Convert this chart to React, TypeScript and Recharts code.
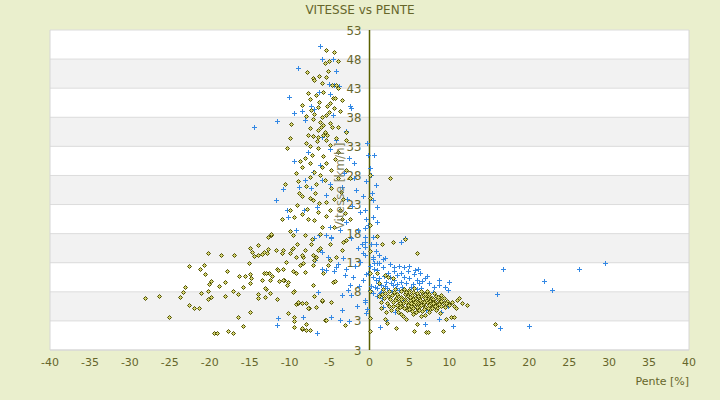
import React from "react";
import {
	ScatterChart,
	Scatter,
	XAxis,
	YAxis,
	CartesianGrid,
	ReferenceLine,
} from "recharts";

// pente [%], vitesse [km/h]
const olivePoints: [number, number][] = [
	// montée / descente raide (panache)
	[-5.5, 49.6], [-4.4, 49.3], [-5.1, 47.7], [-5.6, 47.3], [-4, 47.7], [-7.8, 45.8], [-7.1, 44.7], [-7.0, 44.4],
	[-6.3, 45.1], [-5.2, 46.0], [-5.4, 45.0], [-4.2, 43.5], [-4, 43.0], [-4.7, 43.6], [-7.7, 42.1], [-5.8, 42.4],
	[-7.5, 41.1], [-6.7, 41.8], [-4.9, 40.4], [-4.6, 41.3], [-4.3, 41.3], [-3.5, 41.0], [-8.5, 40.1], [-6.3, 40.7],
	[-7.3, 39.3], [-6.5, 39.8], [-5.4, 38.4], [-5.1, 38.9], [-3.75, 39.1], [-9.8, 36.8], [-7.1, 37.7], [-6.25, 37.2],
	[-5.8, 36.7], [-5, 37.0], [-4.7, 36.4], [-7.5, 36.1], [-6.5, 35.8], [-5.6, 35.5], [-4, 36.3], [-9.9, 34.4],
	[-7.1, 34.7], [-4.25, 34.4], [-2.9, 35.5], [-6.0, 43.9], [-5.9, 38.0], [-6.9, 38.5], [-4.4, 39.6], [-5.3, 40.0],
	[-6.1, 36.3], [-8.0, 38.2], [-7.7, 35.0], [-6.6, 33.9], [-5.3, 34.9],
	[-10.3, 32.8], [-7.9, 33.5], [-7.5, 33.1], [-7.1, 34.8], [-6.5, 34.6], [-5.8, 35.0], [-5.4, 34.1], [-5, 33.2],
	[-6.5, 32.7], [-8.75, 30.4], [-8.5, 29.5], [-9.2, 28.4], [-8.1, 31.0], [-7.5, 30.1], [-7.2, 31.5], [-6.9, 28.6],
	[-6.25, 28.0], [-6.7, 26.6], [-5.4, 30.1], [-4.8, 28.9], [-5.6, 27.2], [-4.8, 25.8], [-8.8, 24.9], [-8.5, 24.4],
	[-7.5, 24.1], [-7.1, 23.8], [-6.3, 23.2], [-5.4, 23.5], [-5, 22.1], [-3.75, 22.1], [-3.1, 21.5], [-2.5, 20.6],
	[-10, 22.1], [-9.4, 20.9], [-7.7, 20.6], [-7.0, 20.4], [-6.0, 19.2], [-4.4, 19.2], [-3.5, 20.6], [-10, 18.5],
	[-9.6, 17.8], [-12.3, 17.8], [-8.1, 17.8], [-6.25, 18.0], [-2.9, 34.1],
	[-9.0, 27.0], [-8.0, 26.2], [-7.4, 27.8], [-6.0, 29.5], [-5.8, 31.3], [-4.3, 30.8], [-4.0, 27.5], [-3.6, 25.2],
	[-3.3, 23.9], [-4.5, 24.0], [-6.8, 25.0], [-7.8, 22.3], [-9.1, 23.0], [-10.6, 26.5], [-8.4, 21.3], [-5.5, 21.0],
	[-6.5, 21.8], [-11.0, 20.5], [-4.0, 32.0], [-3.0, 29.0], [-2.4, 27.5], [2.6, 27.6],
	// pentes négatives, faible vitesse
	[-28.1, 6.9], [-26.3, 7.2], [-25.1, 3.6], [-23.75, 7.1], [-23.3, 7.9], [-23.1, 8.8], [-22.6, 5.7], [-22, 5.3],
	[-21.3, 5.2], [-22.6, 12.4], [-21.25, 11.9], [-20.7, 12.6], [-20.2, 14.6], [-20.6, 11.0], [-21.1, 7.8], [-20.2, 8.1],
	[-20.2, 6.8], [-19.8, 7.1], [-20.1, 9.3], [-19.8, 9.9], [-19.5, 1.0], [-19.1, 0.9], [-18.6, 14.4], [-18.8, 9.0],
	[-18.1, 9.7], [-17.9, 11.5], [-17.7, 1.3], [-17.1, 0.9], [-17.0, 14.4], [-18.1, 7.3], [-17.1, 8.2], [-16.5, 7.7],
	[-16.5, 3.7], [-15.8, 2.2], [-16.4, 10.8], [-15.8, 8.8], [-15.6, 10.7], [-15.1, 12.9], [-14.9, 15.6], [-14.8, 10.3],
	[-15.0, 4.6], [-14.9, 9.5], [-14.7, 14.8], [-14.4, 14.2], [-14, 16.0], [-14.0, 14.4], [-14.0, 7.6], [-13.9, 6.9],
	[-13.5, 14.5], [-13.5, 10.1], [-13.1, 7.1], [-13.0, 8.4], [-13.2, 11.2], [-12.8, 14.6], [-12.75, 15.3], [-12.6, 11.3],
	[-12.5, 10.0], [-12.5, 7.8], [-12.3, 17.9], [-12.7, 17.5], [-12.2, 10.7], [-11.7, 15.2], [-11.6, 11.9], [-11.6, 6.7],
	[-11.3, 9.9], [-11.0, 14.7], [-10.75, 10.0], [-10.4, 13.1], [-10.3, 9.2], [-10.2, 4.3], [-10, 14.6], [-9.7, 15.3],
	[-9.4, 8.2], [-9.25, 5.9], [-9.1, 16.3], [-9.2, 11.3], [-8.9, 6.1], [-9.4, 3.6], [-9.4, 2.0], [-8.5, 1.6],
	[-8.1, 11.4], [-8.3, 14.0], [-7.9, 6.0], [-7.6, 5.2], [-8.0, 2.5], [-7.3, 16.3], [-7, 13.5], [-7.1, 9.2],
	[-7.0, 7.3], [-7.2, 17.0], [-6.7, 5.4], [-7.5, 1.4], [-6.0, 6.4], [-5.6, 3.2],
	[-15, 11.0], [-13.25, 14.8], [-11.0, 14.6], [-10.8, 15.2], [-9.6, 15.5], [-9.2, 14.0], [-8.5, 14.3], [-8.1, 15.2],
	[-7.1, 14.3], [-6.5, 15.2], [-6.2, 15.6], [-5, 16.3], [-12.9, 11.2], [-11.5, 11.75], [-10.8, 12.0], [-9.6, 11.5],
	[-8.75, 12.6], [-8.3, 12.9], [-7.1, 12.6], [-5.8, 11.2], [-5.2, 12.6], [-5, 13.5], [-4.2, 14.0], [-3.5, 15.2],
	[-3.3, 16.6], [-2.9, 16.9], [-10.8, 10.0], [-10.2, 9.7], [-13.1, 8.6], [-9.6, 8.0], [-9, 6.3], [-8.5, 6.0],
	[-7.7, 5.2], [-6.0, 6.6], [-4.8, 6.3], [-9.4, 2.9], [-8.5, 1.7], [-7.9, 1.4], [-5.4, 3.2], [-3.1, 2.3],
	[-4.6, 9.7], [-4.3, 9.9], [-6.7, 14.0],
	// à plat
	[0, 1.2], [0, 3.5], [0, 8.2], [0, 11.3], [0, 15.0], [0, 19.5], [0, 24.2], [0, 28.0],
	// pentes positives
	[0.9, 17.6], [4.4, 17.0], [3.0, 16.6], [1.6, 16.2], [6.0, 14.7], [1.9, 10.9], [2.3, 10.6], [1.0, 11.2],
	[2.9, 10.3], [1.25, 9.5], [11.25, 6.9], [12.2, 5.7], [10.8, 5.2], [10, 5.9], [10.2, 3.6], [4.6, 3.3],
	[3.3, 1.7], [5.6, 1.3], [7.1, 1.1], [7.3, 1.1], [9.2, 1.3], [6.0, 2.4], [2.0, 3.4], [2.2, 2.6],
	[1.5, 5.3], [15.7, 2.4], [10.6, 3.6], [9.6, 3.3],
	[2.0, 7.8], [2.3, 7.2], [2.6, 6.8], [2.8, 7.5], [3.0, 6.2], [3.1, 7.9], [3.3, 6.9], [3.4, 5.8],
	[3.6, 7.3], [3.7, 6.5], [3.9, 8.1], [4.0, 5.5], [4.1, 7.0], [4.2, 6.1], [4.4, 7.6], [4.5, 6.7],
	[4.6, 5.2], [4.8, 7.2], [4.9, 6.0], [5.0, 8.3], [5.1, 6.6], [5.2, 5.6], [5.3, 7.4], [5.4, 6.3],
	[5.5, 7.9], [5.6, 5.9], [5.7, 7.0], [5.8, 6.5], [5.9, 5.3], [6.0, 7.6], [6.1, 6.1], [6.2, 6.9],
	[6.3, 5.6], [6.4, 7.3], [6.5, 6.4], [6.6, 8.0], [6.7, 5.9], [6.8, 7.1], [6.9, 6.6], [7.0, 5.4],
	[7.1, 7.5], [7.2, 6.2], [7.3, 6.9], [7.4, 5.7], [7.5, 7.2], [7.6, 6.5], [7.7, 6.0], [7.8, 7.0],
	[7.9, 5.5], [8.0, 6.7], [8.2, 6.2], [8.3, 7.3], [8.5, 5.8], [8.6, 6.8], [8.8, 6.3], [9.0, 5.6],
	[9.1, 6.9], [9.3, 6.1], [9.5, 5.4], [9.7, 6.5], [9.9, 5.8], [2.5, 8.2], [2.9, 5.5], [3.2, 8.4],
	[3.5, 5.0], [3.8, 6.0], [4.3, 8.5], [4.7, 4.8], [4.9, 7.9], [5.3, 4.7], [5.6, 8.6], [5.9, 7.8],
	[6.2, 4.9], [6.5, 8.2], [6.8, 5.1], [7.2, 8.1], [7.6, 5.0], [8.1, 7.8], [8.4, 5.2], [8.9, 7.4],
	[3.4, 7.6], [3.9, 7.1], [4.4, 6.4], [4.8, 5.7], [5.1, 7.1], [5.5, 6.7], [5.8, 6.0], [6.1, 7.3],
	[6.4, 5.8], [6.8, 6.2], [7.1, 6.6], [7.4, 7.7], [7.9, 6.3], [8.2, 5.5], [8.7, 5.9], [9.3, 7.0],
	[10.3, 6.2], [10.6, 5.6], [2.2, 6.0], [1.8, 6.9], [1.6, 7.6], [2.7, 4.9], [3.6, 4.6], [4.3, 5.2],
	[5.0, 5.0], [5.8, 4.6], [6.6, 4.7], [7.5, 4.6], [8.3, 4.8], [3.2, 6.6], [4.6, 7.9], [5.7, 6.3],
	[6.9, 7.6], [7.8, 5.3], [8.6, 7.1], [9.6, 6.0], [4.0, 6.8], [5.2, 6.0], [6.3, 6.6], [7.0, 7.0],
	[6.0, 5.4], [5.4, 5.2], [4.6, 6.2], [3.8, 5.4], [7.3, 5.2], [8.0, 6.0], [9.0, 6.4], [2.4, 5.6],
	[1.4, 6.2], [1.2, 7.2], [1.7, 8.4], [2.1, 4.6], [10.9, 6.6], [11.6, 6.0], [3.9, 4.2], [5.5, 4.2],
	[7.0, 4.1], [8.8, 4.3], [4.2, 3.9], [6.4, 3.8],
];

const bluePoints: [number, number][] = [
	[-6.25, 50.2], [-6.0, 48.0], [-4.6, 48.1], [-9, 46.4], [-4.25, 46.0], [-5.1, 43.7], [-4.4, 43.5], [-3.8, 43.3],
	[-6.3, 42.3], [-5, 42.0], [-10.1, 41.4], [-7.3, 39.9], [-7, 39.4], [-9.5, 38.7], [-8.5, 39.0], [-2.5, 39.9],
	[-2.3, 39.6], [-11.6, 37.4], [-8.1, 37.5], [-4.6, 38.4], [-3, 35.7], [-5.9, 34.6], [-14.4, 36.3], [-11.75, 23.8],
	[-9.5, 30.4], [-10.8, 25.6], [-10.3, 22.1], [-10.2, 20.9], [-8.2, 22.1], [-7.7, 32.1], [-8.1, 27.2], [-7.1, 28.6],
	[-6.0, 27.2], [-4.9, 26.6], [-4.2, 34.1], [-5, 32.5], [-1.9, 30.2], [-1.7, 25.5], [-1.25, 21.8], [-1.5, 18.6],
	[0, 29.2], [0.6, 31.5], [-0.2, 31.5], [0.8, 26.4], [0.5, 23.8], [0.4, 20.9], [-0.6, 22.1], [-0.4, 20.6],
	[-0.6, 18.9], [-3, 35.5], [-5, 19.2], [-3.75, 18.6], [-4.8, 17.5], [-6.9, 17.2], [-9.2, 18.7],
	[-0.3, 33.5], [0.2, 28.0], [-0.5, 27.0], [0.3, 25.0], [-0.8, 24.5], [0.9, 22.5], [-0.2, 19.5], [0.5, 17.5],
	[1.0, 20.0], [-1.0, 16.2], [0.0, 12.5], [-0.4, 11.0], [0.2, 9.0], [-0.3, 5.0], [0.1, 3.5], [0.8, 15.0],
	[-2.0, 27.5], [-2.6, 31.0], [-3.2, 28.5], [-2.8, 24.0], [-3.5, 26.0], [-2.2, 22.8], [-3.0, 20.0], [-6.2, 29.8],
	[-5.4, 24.6], [-7.3, 25.8], [-8.8, 26.0], [-6.6, 22.5],
	[-6.5, 8.0], [-6.9, 13.5], [-6.0, 14.9], [-5.2, 14.0], [-5.4, 11.75], [-4.4, 11.5], [-4.2, 12.3], [-4.0, 12.8],
	[-3.3, 13.8], [-2.9, 12.0], [-3.1, 10.9], [-2.5, 9.2], [-2.1, 10.6], [-2.7, 8.3], [-3.5, 7.4], [-2.3, 7.4],
	[-3.5, 4.9], [-4.8, 3.7], [-3.75, 3.2], [-2.6, 3.0], [-8.3, 3.6], [-11.5, 3.5], [-11.6, 2.3], [-6.6, 1.0],
	[-0.8, 10.0], [-0.6, 6.6], [-1.25, 13.2], [-1.5, 15.5], [-0.6, 16.6], [0.2, 16.3], [0.4, 14.0], [0.6, 12.9],
	[0.8, 10.0], [1.0, 8.6], [1.0, 7.2], [-0.6, 15.75], [-0.8, 14.6], [-2.3, 17.3], [-5.4, 17.8], [-4.8, 17.2],
	[-6.8, 13.5], [-5.9, 11.9], [-6.2, 15.2], [-6.3, 17.8], [-1.8, 12.5], [-1.3, 9.0], [-1.6, 5.5],
	[-0.6, 17.5], [0.8, 16.2], [4.4, 17.2], [4.0, 16.6], [-0.6, 14.3], [0.5, 13.6], [1.2, 14.3], [1.7, 13.6],
	[2.0, 13.8], [1.25, 12.9], [0.6, 12.0], [0.9, 11.8], [1.7, 12.3], [3.1, 12.2], [3.75, 12.4], [4.3, 12.2],
	[3.1, 11.5], [4.0, 11.2], [5.6, 11.0], [6.9, 10.4], [6.0, 10.0], [5, 10.3], [8.75, 10.0], [10, 9.7],
	[9.8, 8.3], [9.4, 8.8], [8.75, 9.2], [8.1, 8.9], [7.9, 8.0], [7.1, 8.0], [6.25, 9.5], [6.5, 8.6],
	[5.4, 9.3], [4.6, 9.5], [4.0, 9.75], [3.1, 10.0], [2.7, 9.5], [2.1, 9.75], [1.5, 9.2], [1.5, 8.0],
	[1.3, 7.8], [2.5, 8.3], [3.3, 8.6], [3.75, 8.3], [0, 8.3], [-0.6, 6.3], [-0.4, 4.3], [1.3, 2.0],
	[2.1, 3.2], [3.25, 4.6], [4.2, 6.6], [6.0, 6.3], [7.1, 4.9], [9, 4.6], [8.75, 3.3], [6.9, 2.5],
	[10.5, 2.2], [9.8, 5.6], [1.7, 5.4], [-0.2, 11.2], [0.4, 10.6],
	[1.2, 10.4], [1.8, 10.8], [2.3, 11.2], [2.6, 10.5], [1.9, 9.0], [2.9, 9.1], [3.5, 9.4], [4.3, 10.6],
	[4.8, 11.6], [5.2, 8.8], [5.9, 8.4], [6.6, 9.9], [7.4, 9.6], [7.2, 10.8], [3.4, 10.9], [1.1, 9.6],
	[0.7, 8.9], [2.2, 8.6], [0.5, 7.8], [1.6, 6.9], [2.8, 7.9], [4.1, 8.9], [5.7, 11.7], [6.3, 11.3],
	[6.1, 12.0], [4.9, 12.5], [2.6, 12.8], [0.9, 13.0],
	[16.7, 12.0], [26.25, 11.9], [29.5, 12.9], [21.8, 9.9], [22.8, 8.3], [15.9, 7.6], [16.3, 1.7], [20.0, 2.2],
];

const xTicks = [-40, -35, -30, -25, -20, -15, -10, -5, 0, 5, 10, 15, 20, 25, 30, 35, 40];
const yTicks = [-2, 3, 8, 13, 18, 23, 28, 33, 38, 43, 48, 53];
const yTickLabels = ["3", "3", "8", "13", "18", "23", "28", "33", "38", "43", "48", "53"];

const TEXT = "#66662b";
const FONT = "'DejaVu Sans', sans-serif";
const NARROW = "'DejaVu Sans Condensed', 'DejaVu Sans', sans-serif";

const oliveData = olivePoints.map(([x, y]) => ({ x, y }));
const blueData = bluePoints.map(([x, y]) => ({ x, y }));

const Plus = (p: any) => {
	const cx = Math.round(p.cx) + 0.5;
	const cy = Math.round(p.cy) + 0.5;
	return (
		<g stroke="#3388e4" strokeWidth={1}>
			<line x1={cx - 2.5} y1={cy} x2={cx + 2.5} y2={cy} />
			<line x1={cx} y1={cy - 2.5} x2={cx} y2={cy + 2.5} />
		</g>
	);
};

const Diamond = (p: any) => {
	const cx = Math.round(p.cx) + 0.5;
	const cy = Math.round(p.cy) + 0.5;
	return (
		<path
			d={`M${cx},${cy - 2}L${cx + 2},${cy}L${cx},${cy + 2}L${cx - 2},${cy}Z`}
			stroke="#4f4f00"
			strokeWidth={1}
			fill="#d2d272"
		/>
	);
};

const EmptyTick = () => <g />;

// tick label drawn just left of the x = 0 axis line
const tickLabel = (text: string) => (props: any) => {
	const vb = props.viewBox;
	return (
		<text
			x={vb.x + vb.width / 2 - 8}
			y={vb.y}
			dy={4.5}
			textAnchor="end"
			fill={TEXT}
			fontSize={13}
			fontFamily={NARROW}
		>
			{text}
		</text>
	);
};

export default function App() {
	return (
		<div
			style={{
				position: "relative",
				width: 720,
				height: 400,
				background: "#eaefcd",
				fontFamily: FONT,
				overflow: "hidden",
			}}
		>
			<style>{`body{margin:0}`}</style>
			<ScatterChart
				width={720}
				height={400}
				margin={{ top: 30, right: 31, bottom: 5, left: 50 }}
			>
				<CartesianGrid
					vertical={false}
					stroke="#dcdcdc"
					horizontalFill={["#ffffff", "#f2f2f2"]}
					fillOpacity={1}
				/>
				<XAxis
					type="number"
					dataKey="x"
					domain={[-40, 40]}
					ticks={xTicks}
					height={45}
					axisLine={false}
					tickLine={false}
					interval={0}
					tick={{ fill: TEXT, fontSize: 11, fontFamily: FONT }}
				/>
				<YAxis
					type="number"
					dataKey="y"
					domain={[-2, 53]}
					ticks={yTicks}
					width={0}
					axisLine={false}
					tickLine={false}
					interval={0}
					tick={EmptyTick}
				/>
				<ReferenceLine x={-40} stroke="#d6d6d6" />
				<ReferenceLine x={40} stroke="#d6d6d6" />
				<ReferenceLine y={-2} stroke="#d6d6d6" />
				<Scatter data={blueData} shape={Plus} isAnimationActive={false} />
				<Scatter data={oliveData} shape={Diamond} isAnimationActive={false} />
				<ReferenceLine x={0} stroke="#5a6000" strokeWidth={1.5} />
				{yTicks.map((t, i) => (
					<ReferenceLine
						key={t}
						y={t}
						strokeOpacity={0}
						label={tickLabel(yTickLabels[i])}
					/>
				))}
			</ScatterChart>
			<svg
				width={720}
				height={400}
				style={{ position: "absolute", left: 0, top: 0, pointerEvents: "none" }}
			>
				<text
					x={360}
					y={10}
					textAnchor="middle"
					dominantBaseline="central"
					fill={TEXT}
					fontSize={12}
					fontFamily={FONT}
				>
					VITESSE vs PENTE
				</text>
				<text
					x={340}
					y={186}
					transform="rotate(-90, 340, 186)"
					textAnchor="middle"
					dominantBaseline="central"
					fill="#77774f"
					fillOpacity={0.9}
					fontSize={12}
					fontFamily={FONT}
				>
					Vitesse [km/h]
				</text>
				<text
					x={689}
					y={381}
					textAnchor="end"
					dominantBaseline="central"
					fill={TEXT}
					fontSize={11}
					fontFamily={FONT}
				>
					Pente [%]
				</text>
			</svg>
		</div>
	);
}
